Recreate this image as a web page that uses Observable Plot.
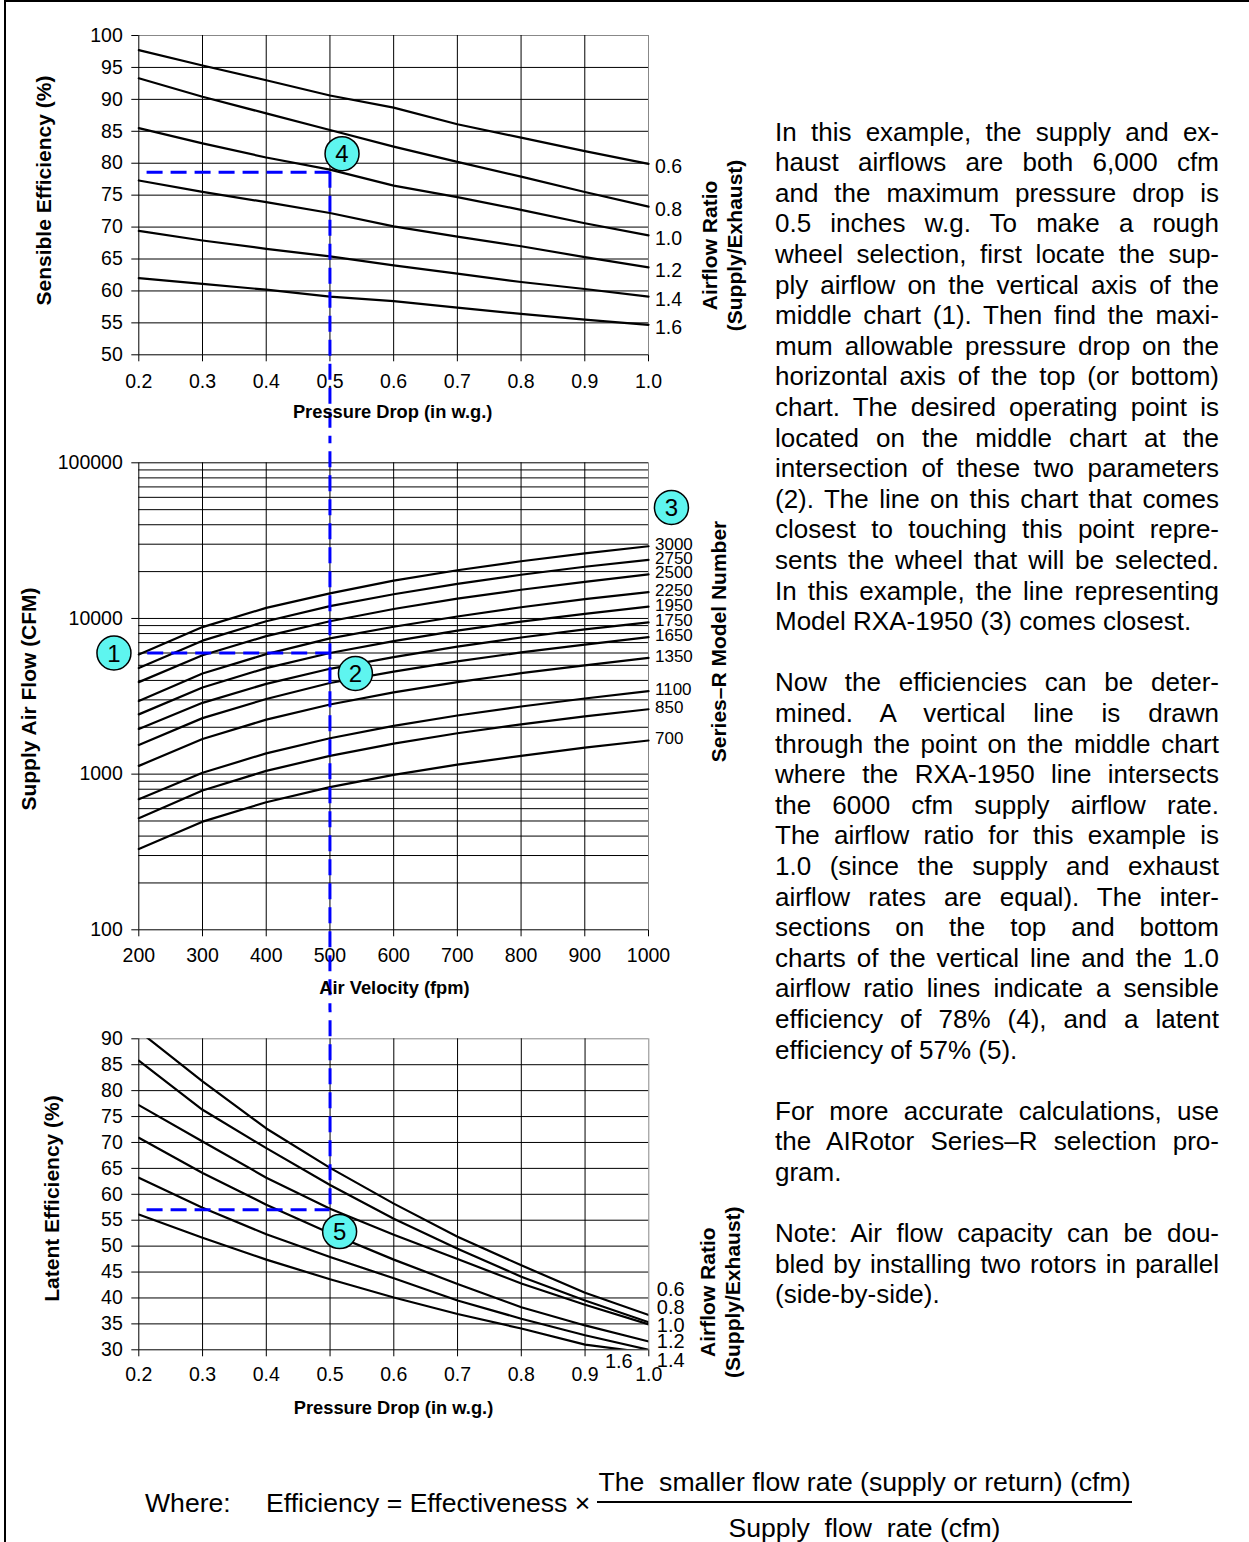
<!DOCTYPE html>
<html>
<head>
<meta charset="utf-8">
<script src="https://cdn.jsdelivr.net/npm/d3@7"></script>
<script src="https://cdn.jsdelivr.net/npm/@observablehq/plot@0.6"></script>
<style>
html, body { margin: 0; padding: 0; background: #fff; }
#page { position: relative; width: 1249px; height: 1542px; overflow: hidden; font-family: "Liberation Sans", Arial, Helvetica, sans-serif; color: #000; background: #fff; }
.chart { position: absolute; left: 0; width: 760px; }
.chart svg { display: block; }
#border { position: absolute; left: 4px; top: 0px; width: 1300px; height: 1600px; border-left: 2px solid #000; border-top: 2px solid #000; pointer-events: none; z-index: 5; }
#notes { position: absolute; left: 775px; top: 116.7px; width: 444px; font-size: 26px; line-height: 30.6px; }
#notes .l { text-align: justify; text-align-last: justify; }
#notes .e { text-align: left; }
#notes .gap { height: 30.6px; }
.f { position: absolute; font-size: 26.6px; line-height: 30px; white-space: pre; }
#bar { position: absolute; left: 597px; top: 1501px; width: 535px; height: 1.5px; background: #000; }
</style>
</head>
<body>
<div id="page">
  <div id="notes"></div>
  <div class="f" style="left:145px; top:1488px;">Where:</div>
  <div class="f" style="left:266px; top:1488px;">Efficiency = Effectiveness ×</div>
  <div class="f" style="left:597px; width:535px; text-align:center; top:1467px;">The  smaller flow rate (supply or return) (cfm)</div>
  <div id="bar"></div>
  <div class="f" style="left:597px; width:535px; text-align:center; top:1513px;">Supply  flow  rate (cfm)</div>
  <div id="border"></div>
</div>
<script>
// ---------------- DATA ----------------
// Top chart: sensible efficiency (%) vs pressure drop (in w.g.), one series per airflow ratio
const pressureDrop = [0.2, 0.3, 0.4, 0.5, 0.6, 0.7, 0.8, 0.9, 1.0];
const ratioLabels = ["0.6", "0.8", "1.0", "1.2", "1.4", "1.6"];
const sensible06 = [97.7, 95.3, 93.0, 90.6, 88.7, 86.1, 84.0, 81.9, 79.9];
const sensible08 = [93.3, 90.4, 87.8, 85.2, 82.6, 80.2, 77.9, 75.5, 73.2];
const sensible10 = [85.5, 83.1, 80.9, 79.0, 76.5, 74.7, 72.7, 70.6, 68.7];
const sensible12 = [77.3, 75.5, 73.9, 72.2, 70.1, 68.5, 67.0, 65.3, 63.7];
const sensible14 = [69.4, 67.9, 66.6, 65.4, 64.0, 62.7, 61.4, 60.3, 59.1];
const sensible16 = [62.0, 61.1, 60.2, 59.1, 58.4, 57.4, 56.4, 55.5, 54.7];
const sensibleTicks = [50, 55, 60, 65, 70, 75, 80, 85, 90, 95, 100];
const pressureTicks = [0.2, 0.3, 0.4, 0.5, 0.6, 0.7, 0.8, 0.9, 1.0];

// Middle chart: supply air flow (CFM) vs air velocity (fpm), one series per Series-R model
const airVelocity = [200, 300, 400, 500, 600, 700, 800, 900, 1000];
const modelNumbers = ["3000", "2750", "2500", "2250", "1950", "1750", "1650", "1350", "1100", "850", "700"];
const flow3000 = [5870, 8800, 11700, 14500, 17500, 20400, 23300, 26200, 29100];
const flow2750 = [4800, 7200, 9600, 12000, 14300, 16700, 19100, 21500, 23800];
const flow2500 = [3900, 5800, 7700, 9600, 11500, 13400, 15300, 17200, 19200];
const flow2250 = [2950, 4430, 5900, 7450, 8850, 10300, 11800, 13300, 14750];
const flow1950 = [2420, 3600, 4800, 6000, 7150, 8350, 9550, 10700, 11900];
const flow1750 = [1950, 2870, 3800, 4750, 5650, 6600, 7550, 8500, 9450];
const flow1650 = [1540, 2290, 3040, 3850, 4550, 5300, 6050, 6800, 7580];
const flow1350 = [1130, 1680, 2240, 2800, 3350, 3900, 4450, 5000, 5590];
const flow1100 = [690, 1020, 1360, 1700, 2040, 2380, 2720, 3060, 3410];
const flow850  = [520, 785, 1050, 1310, 1570, 1830, 2090, 2350, 2610];
const flow700  = [330, 495, 660, 825, 990, 1150, 1310, 1480, 1644];
const velocityTicks = [200, 300, 400, 500, 600, 700, 800, 900, 1000];
const flowTicks = [100, 1000, 10000, 100000];

// Bottom chart: latent efficiency (%) vs pressure drop, one series per airflow ratio
const latent06 = [91.5, 81.8, 72.7, 65.1, 58.2, 51.8, 46.3, 41.0, 36.7];
const latent08 = [85.8, 76.3, 68.9, 61.8, 55.3, 49.5, 44.1, 39.5, 35.3];
const latent10 = [77.2, 70.2, 63.2, 57.2, 52.2, 47.5, 42.8, 38.7, 34.9];
const latent12 = [70.9, 64.1, 58.0, 52.5, 47.4, 42.7, 38.2, 34.7, 31.6];
const latent14 = [63.2, 57.4, 52.3, 47.9, 43.8, 39.5, 36.0, 32.8, 30.0];
const latent16 = [56.1, 51.6, 47.4, 43.6, 40.1, 36.9, 34.1, 31.0, 29.4];
const latentTicks = [30, 35, 40, 45, 50, 55, 60, 65, 70, 75, 80, 85, 90];

// Worked example (selection point) and call-out markers
const selPressure = 0.5, selVelocity = 500, selFlow = 6000, selSensible = 78.6, selLatent = 57;
const guideStartPressure = 0.213, guideStartVelocity = 214;
const calloutTop = [{x: 0.519, y: 81.5, n: "4"}];
const calloutMiddle = [{x: 161, y: 6000, n: "1"}, {x: 540, y: 4430, n: "2"}, {x: 1036, y: 51600, n: "3"}];
const calloutBottom = [{x: 0.515, y: 52.8, n: "5"}];

// Text block
const notes = [
  ["In this example, the supply and ex-", "haust airflows are both 6,000 cfm", "and the maximum pressure drop is",
   "0.5 inches w.g.  To make a rough", "wheel selection, first locate the sup-", "ply airflow on the vertical axis of the",
   "middle chart (1).  Then find the maxi-", "mum allowable pressure drop on the", "horizontal axis of the top (or bottom)",
   "chart.  The desired operating point is", "located on the middle chart at the", "intersection of these two parameters",
   "(2).  The line on this chart that comes", "closest to touching this point repre-", "sents the wheel that will be selected.",
   "In this example, the line representing", "Model RXA-1950 (3) comes closest."],
  ["Now the efficiencies can be deter-", "mined.   A vertical line is drawn", "through the point on the middle chart",
   "where the RXA-1950 line intersects", "the 6000 cfm supply airflow rate.", "The airflow ratio for this example is",
   "1.0 (since the supply and exhaust", "airflow rates are equal).  The inter-", "sections on the top and bottom",
   "charts of the vertical line and the 1.0", "airflow ratio lines indicate a sensible", "efficiency of 78% (4), and a latent",
   "efficiency of 57% (5)."],
  ["For more accurate calculations, use", "the AIRotor Series–R selection pro-", "gram."],
  ["Note: Air flow capacity can be dou-", "bled by installing two rotors in parallel", "(side-by-side)."]
];

// ---------------- BUILD ----------------
const FONT = "'Liberation Sans', Arial, Helvetica, sans-serif";
const GUIDE = {stroke: "#0000ff", strokeWidth: 3, strokeDasharray: "16,8"};
const CIRCLE = {r: 17, fill: "#5ef5ef", stroke: "#000", strokeWidth: 1.5};
const svgStyle = {fontFamily: FONT, fontSize: "19.5px", background: "transparent", overflow: "hidden", color: "#000"};

function table(xs, names, arrays) {
  return names.flatMap((s, i) => arrays[i].map((v, j) => ({x: xs[j], y: v, s})));
}
function ends(xs, names, arrays) {
  return names.map((s, i) => ({x: xs[xs.length - 1], y: arrays[i][arrays[i].length - 1], s}));
}
function callouts(data) {
  return [
    Plot.dot(data, {x: "x", y: "y", ...CIRCLE}),
    Plot.text(data, {x: "x", y: "y", text: "n", fontSize: 24, dy: 1})
  ];
}
function title(txt, opts) {
  return Plot.text([txt], {text: d => d, fontWeight: "bold", textAnchor: "middle", lineAnchor: "middle", ...opts});
}

const page = document.getElementById("page");
function place(svg, top) {
  const d = document.createElement("div");
  d.className = "chart";
  d.style.top = top + "px";
  d.appendChild(svg);
  page.insertBefore(d, document.getElementById("border"));
}

// --- Top chart ---
const sensibleSeries = [sensible06, sensible08, sensible10, sensible12, sensible14, sensible16];
const topPlot = Plot.plot({
  width: 760, height: 440,
  marginLeft: 138.3, marginRight: 112, marginTop: 35, marginBottom: 85.7,
  style: svgStyle,
  x: {domain: [d3.min(pressureTicks), d3.max(pressureTicks)], ticks: pressureTicks, tickFormat: d3.format(".1f"), tickSize: 7, tickPadding: 12.5, label: null},
  y: {domain: [d3.min(sensibleTicks), d3.max(sensibleTicks)], ticks: sensibleTicks, tickSize: 7, tickPadding: 9, label: null},
  marks: [
    Plot.ruleY(sensibleTicks.slice(0, -1), {stroke: "#000", strokeWidth: 1}),
    Plot.ruleY(sensibleTicks.slice(-1), {stroke: "#888", strokeWidth: 1}),
    Plot.ruleX(pressureTicks.slice(0, -1), {stroke: "#000", strokeWidth: 1}),
    Plot.ruleX(pressureTicks.slice(-1), {stroke: "#888", strokeWidth: 1}),
    Plot.line(table(pressureDrop, ratioLabels, sensibleSeries), {x: "x", y: "y", z: "s", stroke: "#000", strokeWidth: 2.2}),
    Plot.text(ends(pressureDrop, ratioLabels, sensibleSeries), {x: "x", y: "y", text: "s", textAnchor: "start", dx: 6.5, dy: 3, fontSize: 19.5}),
    Plot.ruleY([selSensible], {x1: guideStartPressure, x2: selPressure, ...GUIDE}),
    Plot.ruleX([selPressure], {y1: selSensible, y2: 0, ...GUIDE}),
    ...callouts(calloutTop),
    title("Sensible Efficiency (%)", {frameAnchor: "left", rotate: -90, dx: -94.3, dy: -4.6, fontSize: 21}),
    title("Airflow Ratio", {frameAnchor: "right", rotate: -90, dx: 62, dy: 50.3, fontSize: 21}),
    title("(Supply/Exhaust)", {frameAnchor: "right", rotate: -90, dx: 87, dy: 50.3, fontSize: 21}),
    title("Pressure Drop (in w.g.)", {frameAnchor: "bottom", dx: -1, dy: 57.7, fontSize: 18.3})
  ]
});
place(topPlot, 0);

// --- Middle chart ---
const flowSeries = [flow3000, flow2750, flow2500, flow2250, flow1950, flow1750, flow1650, flow1350, flow1100, flow850, flow700];
const flowGrid = d3.scaleLog().domain([d3.min(flowTicks), d3.max(flowTicks)]).ticks();
const midPlot = Plot.plot({
  width: 760, height: 570,
  marginLeft: 138.3, marginRight: 112, marginTop: 22.3, marginBottom: 80.7,
  style: svgStyle,
  x: {domain: [d3.min(velocityTicks), d3.max(velocityTicks)], ticks: velocityTicks, tickSize: 7, tickPadding: 11, tickFormat: d => String(d), label: null},
  y: {type: "log", domain: [d3.min(flowTicks), d3.max(flowTicks)], ticks: flowTicks, tickFormat: d => String(d), tickSize: 7, tickPadding: 9, label: null},
  marks: [
    Plot.ruleY(flowGrid, {stroke: "#000", strokeWidth: 1}),
    Plot.ruleX(velocityTicks.slice(0, -1), {stroke: "#000", strokeWidth: 1}),
    Plot.ruleX(velocityTicks.slice(-1), {stroke: "#888", strokeWidth: 1}),
    Plot.line(table(airVelocity, modelNumbers, flowSeries), {x: "x", y: "y", z: "s", stroke: "#000", strokeWidth: 2.2}),
    Plot.text(ends(airVelocity, modelNumbers, flowSeries), {x: "x", y: "y", text: "s", textAnchor: "start", dx: 6.5, dy: -1.5, fontSize: 17}),
    Plot.ruleY([selFlow], {x1: guideStartVelocity, x2: selVelocity, ...GUIDE}),
    Plot.ruleX([selVelocity], {y1: 1e8, y2: 1, ...GUIDE}),
    ...callouts(calloutMiddle),
    title("Supply Air Flow (CFM)", {frameAnchor: "left", rotate: -90, dx: -109.3, dy: 2.7, fontSize: 21}),
    title("Series–R Model Number", {frameAnchor: "right", rotate: -90, dx: 71, dy: -54.8, fontSize: 21}),
    title("Air Velocity (fpm)", {frameAnchor: "bottom", dx: 0.8, dy: 58.7, fontSize: 18.3})
  ]
});
place(midPlot, 440);

// --- Bottom chart ---
const latentSeries = [latent06, latent08, latent10, latent12, latent14, latent16];
const latentEnds = ends(pressureDrop, ratioLabels, latentSeries);
const latentLabelOffsets = [
  {dx: 8, dy: -25, anchor: "start"}, {dx: 8, dy: -15, anchor: "start"}, {dx: 8, dy: 1, anchor: "start"},
  {dx: 8, dy: 0, anchor: "start"}, {dx: 8, dy: 11, anchor: "start"}, {dx: -30, dy: 9, anchor: "middle"}
];
const botPlot = Plot.plot({
  width: 760, height: 430,
  marginLeft: 138.3, marginRight: 111.7, marginTop: 28.3, marginBottom: 90.7,
  style: svgStyle,
  x: {domain: [d3.min(pressureTicks), d3.max(pressureTicks)], ticks: pressureTicks, tickFormat: d3.format(".1f"), tickSize: 7, tickPadding: 10.5, label: null},
  y: {domain: [d3.min(latentTicks), d3.max(latentTicks)], ticks: latentTicks, tickSize: 7, tickPadding: 9, label: null},
  marks: [
    Plot.ruleY(latentTicks.slice(0, -1), {stroke: "#000", strokeWidth: 1}),
    Plot.ruleY(latentTicks.slice(-1), {stroke: "#888", strokeWidth: 1}),
    Plot.ruleX(pressureTicks.slice(0, -1), {stroke: "#000", strokeWidth: 1}),
    Plot.ruleX(pressureTicks.slice(-1), {stroke: "#888", strokeWidth: 1}),
    Plot.line(table(pressureDrop, ratioLabels, latentSeries), {x: "x", y: "y", z: "s", stroke: "#000", strokeWidth: 2.2, clip: true}),
    ...latentEnds.map((e, i) => Plot.text([e], {x: "x", y: "y", text: "s", textAnchor: latentLabelOffsets[i].anchor, dx: latentLabelOffsets[i].dx, dy: latentLabelOffsets[i].dy, fontSize: 20})),
    Plot.ruleY([selLatent], {x1: guideStartPressure, x2: selPressure, ...GUIDE}),
    Plot.ruleX([selPressure], {y1: 200, y2: selLatent, ...GUIDE}),
    ...callouts(calloutBottom),
    title("Latent Efficiency (%)", {frameAnchor: "left", rotate: -90, dx: -86.3, dy: 4.2, fontSize: 21}),
    title("Airflow Ratio", {frameAnchor: "right", rotate: -90, dx: 59.7, dy: 97.9, fontSize: 21}),
    title("(Supply/Exhaust)", {frameAnchor: "right", rotate: -90, dx: 84.7, dy: 97.9, fontSize: 21}),
    title("Pressure Drop (in w.g.)", {frameAnchor: "bottom", dx: -0.3, dy: 58.7, fontSize: 18.3})
  ]
});
place(botPlot, 1010);

// --- Notes text ---
const notesDiv = document.getElementById("notes");
notes.forEach((para, pi) => {
  if (pi > 0) {
    const g = document.createElement("div");
    g.className = "gap";
    notesDiv.appendChild(g);
  }
  para.forEach((line, li) => {
    const d = document.createElement("div");
    d.className = li === para.length - 1 ? "e" : "l";
    d.textContent = line;
    notesDiv.appendChild(d);
  });
});
</script>
</body>
</html>
